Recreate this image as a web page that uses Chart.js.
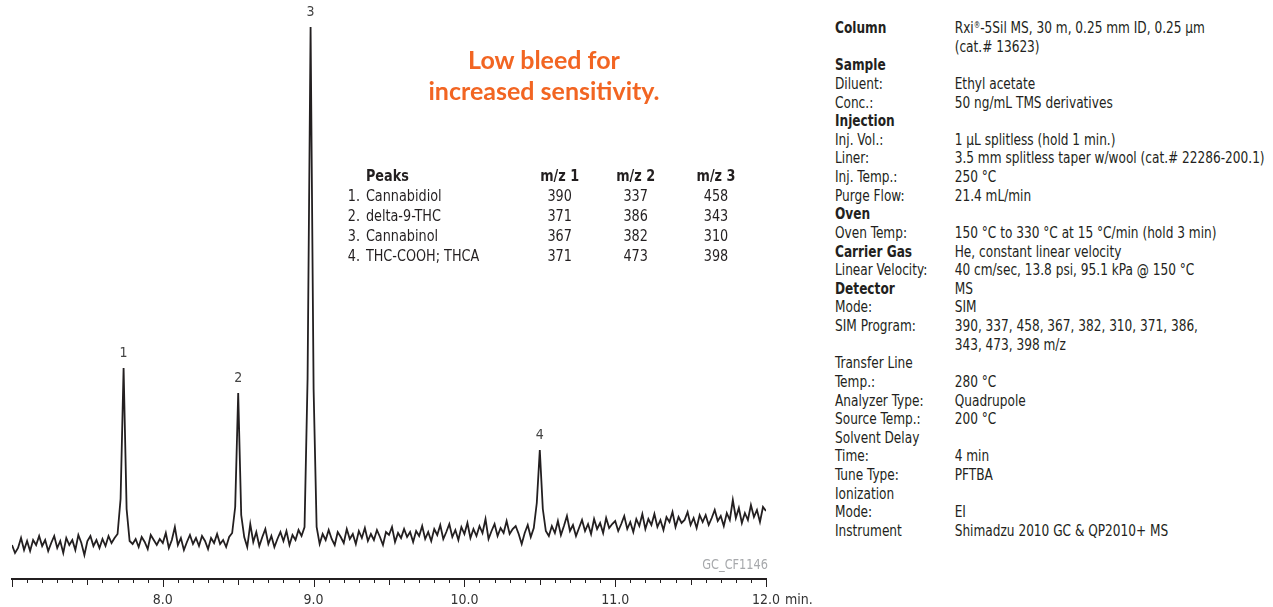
<!DOCTYPE html>
<html>
<head>
<meta charset="utf-8">
<title>GC_CF1146 cannabinoids chromatogram</title>
<script src="https://cdn.jsdelivr.net/npm/chart.js@4/dist/chart.umd.min.js"></script>
<style>
  body { margin: 0; background: #fff; }
  #wrap { position: relative; width: 1273px; height: 607px; overflow: hidden;
          font-family: "Liberation Sans Narrow", "DejaVu Sans Condensed", sans-serif; color: #231f20; }
  #chrom { position: absolute; left: 0; top: 0; }
  .headline { position: absolute; left: 394px; width: 300px; top: 44px; text-align: center;
              font-family: Lato, "Open Sans", sans-serif; font-weight: 700; font-size: 25px;
              line-height: 31px; color: #f26522; }
  #peaks { position: absolute; left: 345px; top: 166px; border-collapse: collapse; font-size: 15px;
           transform: scaleX(0.95); transform-origin: left top; }
  #peaks td { padding: 0; height: 20px; line-height: 20px; white-space: nowrap; }
  #peaks td.num { width: 22px; padding-left: 3px; box-sizing: border-box; }
  #peaks td.name { width: 164px; }
  #peaks td.mz { text-align: center; }
  #peaks th { font-weight: 700; padding: 0; height: 20px; line-height: 20px; text-align: center; }
  #peaks th.name { text-align: left; }
  .code { position: absolute; right: 505px; top: 556px; font-size: 14px; color: #a7a9ac;
          transform: scaleX(0.9); transform-origin: right top; }
  #conditions { position: absolute; left: 835px; top: 19px; display: grid;
                grid-template-columns: 133px auto; font-size: 15px; line-height: 18.63px; white-space: nowrap;
                transform: scaleX(0.9); transform-origin: left top; }
  #conditions .b { font-weight: 700; }
  sup { font-size: 8px; vertical-align: 5px; line-height: 0; }
</style>
</head>
<body>
<div id="wrap">
  <canvas id="chrom" width="820" height="607"></canvas>
  <div class="headline">Low bleed for<br>increased sensitivity.</div>
  <table id="peaks"></table>
  <div class="code">GC_CF1146</div>
  <div id="conditions"></div>
</div>
<script>
// detector signal, one reading every 0.02 min from 7.00 to 12.00 min
const startMin = 7.0;
const stepMin = 0.02;
const signal = [
  34, 26, 31, 41, 29, 38, 28, 39, 34, 43,
  33, 39, 28, 36, 43, 31, 38, 26, 41, 34,
  39, 29, 44, 36, 24, 38, 43, 33, 39, 31,
  40, 33, 43, 36, 41, 45, 80, 211, 70, 38,
  35, 40, 32, 42, 37, 30, 44, 39, 34, 40,
  36, 46, 31, 39, 52, 34, 41, 29, 37, 44,
  35, 41, 33, 43, 38, 30, 41, 36, 45, 35,
  39, 32, 42, 46, 72, 186, 64, 42, 32, 55,
  37, 47, 33, 42, 50, 35, 43, 32, 40, 47,
  38, 48, 34, 44, 39, 49, 43, 52, 200, 552,
  190, 52, 35, 45, 39, 49, 40, 34, 47, 42,
  36, 50, 40, 45, 35, 48, 41, 51, 38, 45,
  39, 49, 42, 34, 47, 44, 52, 37, 46, 41,
  50, 42, 47, 37, 48, 43, 53, 40, 47, 38,
  50, 44, 54, 40, 47, 55, 42, 49, 39, 52,
  45, 56, 41, 50, 43, 53, 46, 60, 40, 48,
  55, 43, 51, 46, 58, 45, 50, 53, 45, 35,
  46, 54, 42, 51, 76, 129, 70, 48, 43, 53,
  46, 58, 44, 53, 63, 48, 54, 43, 51, 59,
  48, 55, 45, 60, 50, 56, 46, 61, 51, 55,
  58, 48, 55, 63, 50, 57, 47, 60, 53, 65,
  50, 60, 54, 65, 52, 59, 49, 62, 57, 67,
  52, 62, 56, 59, 67, 54, 61, 51, 64, 57,
  64, 54, 61, 69, 58, 63, 53, 66, 59, 79,
  61, 71, 56, 66, 59, 74, 62, 69, 57, 72, 68
];

// peak numbers and retention times (min)
const peakNumbers = ['1', '2', '3', '4'];
const peakTimes = [7.74, 8.50, 8.98, 10.50];

// peaks table
const peakNames = ['Cannabidiol', 'delta-9-THC', 'Cannabinol', 'THC-COOH; THCA'];
const mz1 = [390, 371, 367, 371];
const mz2 = [337, 386, 382, 473];
const mz3 = [458, 343, 310, 398];

// x axis
const timeMin = 7.0;
const timeMax = 12.0;
const timeStep = 0.1;

// instrument conditions [label, value, bold label]
const conditionRows = [
  ['Column', 'Rxi<sup>®</sup>-5Sil MS, 30 m, 0.25 mm ID, 0.25 µm', true],
  ['', '(cat.# 13623)'],
  ['Sample', '', true],
  ['Diluent:', 'Ethyl acetate'],
  ['Conc.:', '50 ng/mL TMS derivatives'],
  ['Injection', '', true],
  ['Inj. Vol.:', '1 µL splitless (hold 1 min.)'],
  ['Liner:', '3.5 mm splitless taper w/wool (cat.# 22286-200.1)'],
  ['Inj. Temp.:', '250 °C'],
  ['Purge Flow:', '21.4 mL/min'],
  ['Oven', '', true],
  ['Oven Temp:', '150 °C to 330 °C at 15 °C/min (hold 3 min)'],
  ['Carrier Gas', 'He, constant linear velocity', true],
  ['Linear Velocity:', '40 cm/sec, 13.8 psi, 95.1 kPa @ 150 °C'],
  ['Detector', 'MS', true],
  ['Mode:', 'SIM'],
  ['SIM Program:', '390, 337, 458, 367, 382, 310, 371, 386,'],
  ['', '343, 473, 398 m/z'],
  ['Transfer Line', ''],
  ['Temp.:', '280 °C'],
  ['Analyzer Type:', 'Quadrupole'],
  ['Source Temp.:', '200 °C'],
  ['Solvent Delay', ''],
  ['Time:', '4 min'],
  ['Tune Type:', 'PFTBA'],
  ['Ionization', ''],
  ['Mode:', 'EI'],
  ['Instrument', 'Shimadzu 2010 GC & QP2010+ MS']
];

const fontFamily = '"Liberation Sans Narrow", "DejaVu Sans Condensed", sans-serif';
const ink = '#231f20';

/* side texts */
function buildPeakTable() {
  const table = document.getElementById('peaks');
  let html = '<tr><th></th><th class="name">Peaks</th>' +
    '<th style="width:80px">m/z 1</th><th style="width:80px">m/z 2</th><th style="width:89px">m/z 3</th></tr>';
  peakNames.forEach((name, i) => {
    html += `<tr><td class="num">${peakNumbers[i]}.</td><td class="name">${name}</td>` +
      `<td class="mz">${mz1[i]}</td><td class="mz">${mz2[i]}</td><td class="mz">${mz3[i]}</td></tr>`;
  });
  table.innerHTML = html;
}

function buildConditions() {
  const box = document.getElementById('conditions');
  box.innerHTML = conditionRows.map(row =>
    `<div class="${row[2] ? 'b' : ''}">${row[0] || '&nbsp;'}</div><div>${row[1] || '&nbsp;'}</div>`
  ).join('');
}

/* tick marks, unit and peak numbers */
const chromDecor = {
  id: 'chromDecor',
  afterDraw(chart) {
    const ctx = chart.ctx;
    const xs = chart.scales.x;
    const bottom = chart.chartArea.bottom;
    ctx.save();
    ctx.strokeStyle = ink;
    ctx.lineWidth = 1;
    xs.ticks.forEach(tk => {
      const v = tk.value;
      const whole = Math.abs(v - Math.round(v)) < 1e-6;
      const half = Math.abs(v * 2 - Math.round(v * 2)) < 1e-6;
      const len = whole ? 8 : (half ? 6 : 4);
      const px = Math.round(xs.getPixelForValue(v)) + 0.5;
      ctx.beginPath();
      ctx.moveTo(px, bottom);
      ctx.lineTo(px, bottom + len);
      ctx.stroke();
    });

    ctx.fillStyle = '#333';
    ctx.font = '14px ' + fontFamily;
    ctx.textBaseline = 'middle';
    ctx.textAlign = 'left';
    ctx.fillText('min.', xs.getPixelForValue(timeMax) + 19, bottom + 21);

    const meta = chart.getDatasetMeta(0);
    ctx.fillStyle = '#444';
    ctx.textAlign = 'center';
    ctx.textBaseline = 'bottom';
    peakTimes.forEach((t, k) => {
      const pt = meta.data[Math.round((t - startMin) / stepMin)];
      ctx.fillText(peakNumbers[k], pt.x, pt.y - 8);
    });
    ctx.restore();
  }
};

function drawChromatogram() {
  const points = signal.map((v, i) => ({ x: +(startMin + i * stepMin).toFixed(2), y: v }));
  new Chart(document.getElementById('chrom').getContext('2d'), {
    type: 'line',
    data: {
      datasets: [{
        data: points,
        borderColor: ink,
        borderWidth: 1.8,
        pointRadius: 0,
        tension: 0,
        fill: false
      }]
    },
    options: {
      responsive: false,
      animation: false,
      layout: { padding: { left: 12, right: 54, top: 19, bottom: 0 } },
      plugins: { legend: { display: false }, tooltip: { enabled: false } },
      scales: {
        x: {
          type: 'linear',
          min: timeMin,
          max: timeMax,
          afterFit: scale => { scale.height = 28; },
          border: { display: true, color: ink, width: 2 },
          grid: { display: true, drawOnChartArea: false, drawTicks: true, tickLength: 9, tickColor: 'rgba(0,0,0,0)' },
          ticks: {
            stepSize: timeStep,
            autoSkip: false,
            maxRotation: 0,
            padding: 4,
            color: '#333',
            font: { family: fontFamily, size: 14 },
            callback: v => (Math.abs(v - Math.round(v)) < 1e-6 && v > timeMin) ? v.toFixed(1) : ''
          }
        },
        y: { display: false, min: 0, max: 560 }
      }
    },
    plugins: [chromDecor]
  });
}

document.addEventListener('DOMContentLoaded', function() {
  buildPeakTable();
  buildConditions();
  drawChromatogram();
});
</script>
</body>
</html>
